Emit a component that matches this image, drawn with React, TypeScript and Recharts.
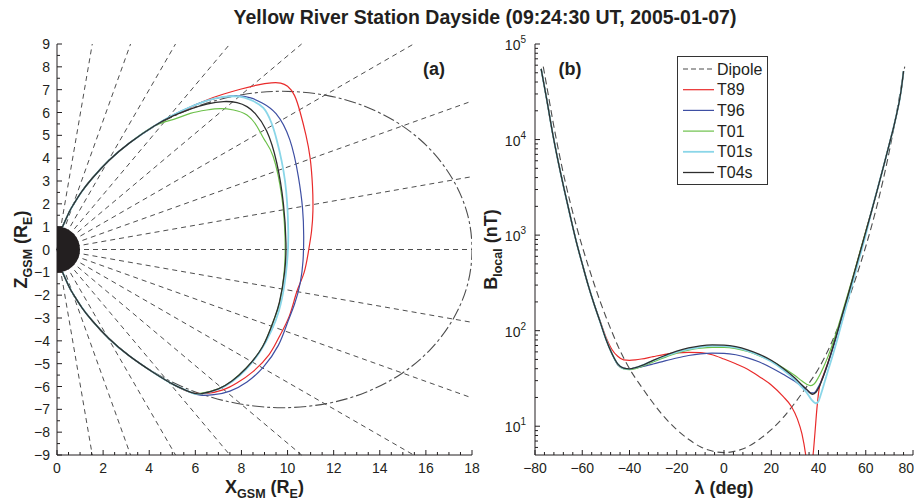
import React from 'react';
import { ComposedChart, Line, XAxis, YAxis, ReferenceLine, ReferenceDot } from 'recharts';

const FONT = '"Liberation Sans", Arial, Helvetica, sans-serif';
const INK = '#231f20';

type Pt = [number, number];

// ---------- panel (a): traced field lines in the X-Z GSM plane (R_E) ----------
const northLeg: Pt[] = [
  [0.23, 0.97], [0.53, 1.64], [0.72, 1.98], [1.07, 2.53], [1.52, 3.11],
  [2.25, 3.9], [3.15, 4.67], [4.2, 5.4],
];
const southLeg: Pt[] = [
  [5.78, -6.25], [5.06, -5.92], [4.2, -5.4], [3.15, -4.67], [2.25, -3.9],
  [1.52, -3.11], [1.07, -2.53], [0.72, -1.98], [0.53, -1.64], [0.23, -0.97],
];
const t89Loop: Pt[] = [
  [5.06, 5.88], [5.78, 6.22], [6.5, 6.55], [7.2, 6.8], [7.95, 7.02], [8.67, 7.2],
  [9.3, 7.3], [9.7, 7.29], [10.0, 7.15], [10.3, 6.75], [10.55, 6.0], [10.8, 5.0],
  [10.98, 4.0], [11.08, 2.8], [11.1, 1.7], [11.04, 0.8], [10.92, 0.0], [10.72, -1.0],
  [10.4, -1.85], [10.07, -2.93], [9.6, -3.9], [9.2, -4.6], [8.5, -5.35], [7.8, -5.85],
  [7.2, -6.15], [6.5, -6.3],
];
const t96Loop: Pt[] = [
  [5.06, 5.9], [5.78, 6.24], [6.5, 6.52], [7.2, 6.68], [7.8, 6.73], [8.4, 6.64],
  [8.9, 6.42], [9.5, 5.95], [10.1, 4.8], [10.47, 3.18], [10.65, 1.8], [10.7, 0.6],
  [10.67, -0.5], [10.55, -1.46], [10.3, -2.4], [9.98, -3.25], [9.6, -4.2], [8.95, -5.15],
  [8.24, -5.8], [7.5, -6.2], [6.8, -6.36], [6.22, -6.38],
];
const t01Loop: Pt[] = [
  [5.06, 5.7], [5.78, 5.96], [6.5, 6.11], [7.08, 6.17], [7.66, 6.11], [8.24, 5.89],
  [8.67, 5.4], [9.0, 4.8], [9.38, 4.06], [9.75, 2.31], [9.89, 0.55], [9.86, -0.9],
  [9.66, -2.3], [9.4, -3.1], [8.92, -4.25], [8.2, -5.2], [7.6, -5.75], [7.0, -6.1],
  [6.22, -6.3],
];
const t01sLoop: Pt[] = [
  [5.06, 5.9], [5.78, 6.24], [6.5, 6.52], [7.2, 6.68], [7.9, 6.7], [8.4, 6.55],
  [8.95, 6.2], [9.3, 5.55], [9.53, 4.8], [9.89, 3.0], [10.03, 0.85], [10.0, -0.3],
  [9.87, -1.5], [9.62, -2.7], [9.3, -3.55], [8.85, -4.4], [8.2, -5.25], [7.6, -5.78],
  [7.0, -6.12], [6.22, -6.33],
];
const t04sLoop: Pt[] = [
  [5.06, 5.86], [5.78, 6.15], [6.5, 6.37], [7.23, 6.48], [7.81, 6.43], [8.24, 6.26],
  [8.6, 5.95], [9.09, 5.2], [9.53, 3.8], [9.82, 2.0], [9.93, 0.3], [9.87, -1.0],
  [9.65, -2.3], [9.4, -3.1], [8.92, -4.25], [8.2, -5.2], [7.6, -5.75], [7.0, -6.1],
  [6.22, -6.32],
];
const dipoleLoop: Pt[] = [
  [0.23, 0.97], [0.31, 1.17], [0.53, 1.64], [0.72, 1.98], [1.07, 2.53], [1.52, 3.11],
  [2.25, 3.9], [3.15, 4.67], [4.2, 5.38], [5.39, 5.99], [6.7, 6.47], [8.09, 6.79],
  [9.78, 6.93], [11.69, 6.75], [13.4, 6.25], [14.94, 5.44], [16.22, 4.35], [17.19, 3.03],
  [17.8, 1.56], [18, 0], [17.8, -1.56], [17.19, -3.03], [16.22, -4.35], [14.94, -5.44],
  [13.4, -6.25], [11.69, -6.75], [9.78, -6.93], [8.09, -6.79], [6.7, -6.47], [5.39, -5.99],
  [4.2, -5.38], [3.15, -4.67], [2.25, -3.9], [1.52, -3.11], [1.07, -2.53], [0.72, -1.98],
  [0.53, -1.64], [0.31, -1.17], [0.23, -0.97],
];
// far ends of the dashed latitude rays (they all start at the origin)
const rayEnds: Pt[] = [
  [1.53, 9], [3.19, 9], [5.14, 9], [7.5, 9], [10.61, 9], [15.47, 9],
  [18, 6.5], [18, 3.19], [18, 0], [18, -3.19], [18, -6.5],
  [15.47, -9], [10.61, -9], [7.5, -9], [5.14, -9], [3.19, -9], [1.53, -9],
];

// ---------- panel (b): B_local along the field line vs latitude ----------
const leftLeg: Pt[] = [
  [-77.4, 55000], [-75, 26000], [-72.5, 11500], [-70, 5600], [-67.5, 2900],
  [-65, 1550], [-62.5, 850], [-60, 500], [-57.5, 300], [-55, 190],
];
const rightLeg: Pt[] = [
  [62.5, 1800], [65, 3050], [67.5, 5200], [70, 9000], [72.5, 16000], [75, 33000], [76, 52000],
];
const dipoleB: Pt[] = [
  [-76.5, 58000], [-75, 36000], [-72.5, 16000], [-70, 7600], [-67.5, 3900], [-65, 2150],
  [-62.5, 1250], [-60, 760], [-57.5, 480], [-55, 310], [-52.5, 205], [-50, 140],
  [-47.5, 98], [-45, 70], [-42.5, 52], [-40, 40], [-35, 26], [-30, 17.5], [-25, 12.3],
  [-20, 9.2], [-15, 7.3], [-10, 6.1], [-5, 5.5], [0, 5.3], [5, 5.5], [10, 6.1], [15, 7.3],
  [20, 9.2], [25, 12.3], [30, 17.5], [35, 26], [40, 40], [42.5, 52], [45, 70], [47.5, 98],
  [50, 140], [52.5, 205], [55, 310], [57.5, 480], [60, 760], [62.5, 1250], [65, 2150],
  [67.5, 3900], [70, 7600], [72.5, 16000], [75, 36000], [76.5, 58000],
];
const t89B: Pt[] = [
  [-52.5, 128], [-50, 86], [-47.5, 64], [-45, 54], [-42.5, 49.5], [-40, 49], [-37.5, 49.5],
  [-35, 50.5], [-30, 53.5], [-25, 56.5], [-20, 58.5], [-15, 59.3], [-10, 59], [-5, 56],
  [0, 50.5], [5, 45], [10, 39.5], [15, 33], [20, 27], [25, 20.5], [28.6, 16], [31, 12],
  [33, 8.3], [34.6, 5], [35.5, 3.4], [36.6, 3.4], [37.7, 5], [38.5, 8.5], [39.3, 15],
  [40.2, 24], [41, 29], [42, 34], [44, 46.5], [46, 66], [48, 97], [50, 145], [52.5, 235],
  [55, 390], [57.5, 650], [60, 1080],
];
const t96B: Pt[] = [
  [-52.5, 125], [-50, 82], [-47.5, 58], [-45, 44], [-42.5, 40.5], [-40, 40], [-37.5, 40.6],
  [-35, 41.8], [-30, 44.8], [-25, 48.3], [-20, 51.8], [-15, 55], [-10, 57.3], [-5, 58.3],
  [0, 58], [5, 56], [10, 52], [15, 47], [20, 41], [25, 35], [30, 29.5], [33, 26], [35, 24],
  [36.5, 22.3], [38, 22.3], [40, 26], [42, 33], [44, 45], [46, 64], [48, 94], [50, 140],
  [52.5, 228], [55, 380], [57.5, 635], [60, 1060],
];
const t01B: Pt[] = [
  [-52.5, 125], [-50, 82], [-47.5, 58], [-45, 44.5], [-42.5, 39.8], [-40, 39.2],
  [-37.5, 40], [-35, 42], [-30, 47], [-25, 52.5], [-20, 58], [-15, 62.5], [-10, 65.5],
  [-5, 67], [0, 67], [5, 65], [10, 60.5], [15, 54.5], [20, 48], [25, 41], [30, 34],
  [33, 29.7], [35, 27.5], [36.5, 26.6], [38, 27.5], [40, 32.5], [42, 41], [44, 53.5],
  [46, 73], [48, 104], [50, 152], [52.5, 245], [55, 400], [57.5, 665], [60, 1100],
];
const t01sB: Pt[] = [
  [-52.5, 125], [-50, 82], [-47.5, 58], [-45, 45], [-42.5, 40.3], [-40, 39.8],
  [-37.5, 41], [-35, 43], [-30, 48.5], [-25, 54], [-20, 59.5], [-15, 64], [-10, 67.5],
  [-5, 69.3], [0, 69], [5, 66.5], [10, 61.5], [15, 55], [20, 47.5], [25, 39], [30, 30.5],
  [33, 25.5], [35, 22.5], [37, 19], [38.9, 17.4], [40, 18.3], [41, 21.5], [42.5, 28.5],
  [44, 38], [46, 55], [48, 82], [50, 125], [52.5, 210], [55, 355], [57.5, 600], [60, 1010],
];
const t04sB: Pt[] = [
  [-52.5, 125], [-50, 82], [-47.5, 58], [-45, 45], [-42.5, 40.5], [-40, 39.8],
  [-37.5, 41], [-35, 43], [-30, 49], [-25, 55], [-20, 61], [-15, 66], [-10, 69.5],
  [-5, 71], [0, 70.5], [5, 68], [10, 63], [15, 56.5], [20, 49], [25, 40.5], [30, 32],
  [33, 27], [35, 24.3], [37.5, 21.6], [39, 22.8], [40.5, 26.5], [42, 33], [44, 46],
  [46, 66], [48, 97], [50, 145], [52.5, 235], [55, 390], [57.5, 650], [60, 1080],
];

// ---------- ticks ----------
const steps = (from: number, to: number, step: number) => {
  const out: number[] = [];
  for (let v = from; v <= to + 1e-9; v += step) out.push(Math.round(v * 1000) / 1000);
  return out;
};
const xLabelsA = [0, 2, 4, 6, 8, 10, 12, 14, 16, 18];
const zLabelsA = [-9, -8, -7, -6, -5, -4, -3, -2, -1, 0, 1, 2, 3, 4, 5, 6, 7, 8, 9];
const latLabels = [-80, -60, -40, -20, 0, 20, 40, 60, 80];
const bDecades = [10, 100, 1000, 10000, 100000];
const xTicksA = steps(0, 18, 0.5);
const zTicksA = steps(-9, 9, 0.5);
const latTicks = steps(-80, 80, 4);
const bTicks = [6, 7, 8, 9, ...[10, 100, 1000, 10000].flatMap((d) => steps(1, 9, 1).map((k) => k * d)), 100000];

const RED = '#e92b2b';
const BLUE = '#3e4fa3';
const GREEN = '#6cc04a';
const CYAN = '#8ad6e8';
const BLACK = '#2e2e2e';
const GREY = '#4d4d4d';

const fieldLines = [
  { name: 'Dipole', pts: dipoleLoop, color: GREY, width: 1.1, dash: '12 3 3 3' },
  { name: 'T89', pts: [...northLeg, ...t89Loop, ...southLeg], color: RED, width: 1.2 },
  { name: 'T96', pts: [...northLeg, ...t96Loop, ...southLeg], color: BLUE, width: 1.2 },
  { name: 'T01', pts: [...northLeg, ...t01Loop, ...southLeg], color: GREEN, width: 1.2 },
  { name: 'T01s', pts: [...northLeg, ...t01sLoop, ...southLeg], color: CYAN, width: 1.8 },
  { name: 'T04s', pts: [...northLeg, ...t04sLoop, ...southLeg], color: BLACK, width: 1.3 },
];
const bSeries = [
  { name: 'Dipole', pts: dipoleB, color: GREY, width: 1.1, dash: '7 4' },
  { name: 'T89', pts: [...leftLeg, ...t89B, ...rightLeg], color: RED, width: 1.2 },
  { name: 'T96', pts: [...leftLeg, ...t96B, ...rightLeg], color: BLUE, width: 1.2 },
  { name: 'T01', pts: [...leftLeg, ...t01B, ...rightLeg], color: GREEN, width: 1.2 },
  { name: 'T01s', pts: [...leftLeg, ...t01sB, ...rightLeg], color: CYAN, width: 1.8 },
  { name: 'T04s', pts: [...leftLeg, ...t04sB, ...rightLeg], color: BLACK, width: 1.3 },
];

const signed = (v: number) => (v < 0 ? `\u2212${Math.abs(v)}` : `${v}`);
const isIn = (list: number[], v: number) => list.some((m) => Math.abs(m - v) < 1e-6);

type LabelFn = (v: number, x: number, y: number) => React.ReactNode;
const bottomLabel: LabelFn = (v, x, y) => (
  <text x={x} y={y + 18} textAnchor="middle" fontSize={14} fill={INK} fontFamily={FONT}>{signed(v)}</text>
);
// the last label of panel (b) sits on the page edge, so it is right-aligned there
const latLabel: LabelFn = (v, x, y) =>
  v >= 80 ? (
    <text x={x + 1} y={y + 18} textAnchor="end" fontSize={14} fill={INK} fontFamily={FONT}>{signed(v)}</text>
  ) : (
    bottomLabel(v, x, y)
  );
const leftLabel: LabelFn = (v, x, y) => (
  <text x={x - 7} y={y + 5} textAnchor="end" fontSize={14} fill={INK} fontFamily={FONT}>{signed(v)}</text>
);
const powLabel: LabelFn = (v, x, y) => (
  <text x={x - 9} y={y + 6} textAnchor="end" fontSize={14} fill={INK} fontFamily={FONT}>
    10<tspan fontSize={10} dy={-7}>{Math.round(Math.log10(v))}</tspan>
  </text>
);

function axisTick(side: 'left' | 'right' | 'top' | 'bottom', majors: number[], label?: LabelFn) {
  return (props: any) => {
    const { x, y, payload } = props;
    const v = Number(payload.value);
    const major = isIn(majors, v);
    const len = major ? 5 : 3;
    let end = { x2: x, y2: y - len };
    if (side === 'top') end = { x2: x, y2: y + len };
    if (side === 'left') end = { x2: x + len, y2: y };
    if (side === 'right') end = { x2: x - len, y2: y };
    return (
      <g>
        <line x1={x} y1={y} {...end} stroke={INK} strokeWidth={1} />
        {label && major ? label(v, x, y) : null}
      </g>
    );
  };
}

const titleStyle = { fontFamily: FONT, fontWeight: 'bold' as const, fill: INK };

const xTitleA = (props: any) => {
  const vb = props.viewBox || {};
  const cx = (vb.x ?? 57) + (vb.width ?? 415) / 2;
  const by = (vb.y ?? 455) + 38;
  return (
    <text x={cx} y={by} textAnchor="middle" fontSize={18} {...titleStyle}>
      X<tspan fontSize={12.5} dy={5}>GSM</tspan><tspan dy={-5}> (R</tspan>
      <tspan fontSize={12.5} dy={5}>E</tspan><tspan dy={-5}>)</tspan>
    </text>
  );
};
const zTitleA = (props: any) => {
  const vb = props.viewBox || {};
  const cy = (vb.y ?? 44) + (vb.height ?? 411) / 2;
  const bx = 27;
  return (
    <text x={bx} y={cy} transform={`rotate(-90 ${bx} ${cy})`} textAnchor="middle" fontSize={18} {...titleStyle}>
      Z<tspan fontSize={12.5} dy={5}>GSM</tspan><tspan dy={-5}> (R</tspan>
      <tspan fontSize={12.5} dy={5}>E</tspan><tspan dy={-5}>)</tspan>
    </text>
  );
};
const latTitle = (props: any) => {
  const vb = props.viewBox || {};
  const cx = (vb.x ?? 55) + (vb.width ?? 378) / 2;
  const by = (vb.y ?? 455) + 39;
  return (
    <text x={cx} y={by} textAnchor="middle" fontSize={18} {...titleStyle}>λ (deg)</text>
  );
};
const bTitle = (props: any) => {
  const vb = props.viewBox || {};
  const cy = (vb.y ?? 44) + (vb.height ?? 411) / 2;
  const bx = 17;
  return (
    <text x={bx} y={cy} transform={`rotate(-90 ${bx} ${cy})`} textAnchor="middle" fontSize={18} {...titleStyle}>
      B<tspan fontSize={12.5} dy={5}>local</tspan><tspan dy={-5}> (nT)</tspan>
    </text>
  );
};

const xz = (pts: Pt[]) => pts.map(([x, z]) => ({ x, z }));
const lb = (pts: Pt[]) => pts.map(([lat, b]) => ({ lat, b }));

function PanelA() {
  return (
    <ComposedChart width={490} height={500} margin={{ top: 44, right: 18, bottom: 0, left: 0 }}>
      <XAxis type="number" dataKey="x" domain={[0, 18]} allowDataOverflow ticks={xTicksA} interval={0}
        height={45} tickSize={0} tickMargin={0} tickLine={false} axisLine={{ stroke: INK }}
        tick={axisTick('bottom', xLabelsA, bottomLabel)} label={xTitleA} />
      <XAxis xAxisId="top" orientation="top" type="number" dataKey="x" domain={[0, 18]} allowDataOverflow
        ticks={xTicksA} interval={0} height={0} tickSize={0} tickMargin={0} tickLine={false}
        axisLine={{ stroke: INK }} tick={axisTick('top', xLabelsA)} />
      <YAxis type="number" domain={[-9, 9]} allowDataOverflow ticks={zTicksA} interval={0} width={57}
        tickSize={0} tickMargin={0} tickLine={false} axisLine={{ stroke: INK }}
        tick={axisTick('left', zLabelsA, leftLabel)} label={zTitleA} />
      <YAxis yAxisId="right" orientation="right" type="number" domain={[-9, 9]} allowDataOverflow
        ticks={zTicksA} interval={0} width={0} tickSize={0} tickMargin={0} tickLine={false}
        axisLine={{ stroke: INK }} tick={axisTick('right', zLabelsA)} />
      {rayEnds.map(([x, z], i) => (
        <ReferenceLine key={`ray-${i}`} segment={[{ x: 0, y: 0 }, { x, y: z }]} stroke="#3a3a3a"
          strokeWidth={0.9} strokeDasharray="5 4" ifOverflow="visible" />
      ))}
      {fieldLines.map((s) => (
        <Line key={s.name} name={s.name} data={xz(s.pts)} dataKey="z" type="natural" stroke={s.color}
          strokeWidth={s.width} strokeDasharray={s.dash} dot={false} activeDot={false}
          isAnimationActive={false} />
      ))}
      <ReferenceDot x={0} y={0} r={23} fill={INK} stroke="none" ifOverflow="hidden" />
    </ComposedChart>
  );
}

function PanelB() {
  return (
    <ComposedChart width={434} height={500} margin={{ top: 44, right: 1, bottom: 0, left: 0 }}>
      <XAxis type="number" dataKey="lat" domain={[-80, 80]} allowDataOverflow ticks={latTicks} interval={0}
        height={45} tickSize={0} tickMargin={0} tickLine={false} axisLine={{ stroke: INK }}
        tick={axisTick('bottom', latLabels, latLabel)} label={latTitle} />
      <XAxis xAxisId="top" orientation="top" type="number" dataKey="lat" domain={[-80, 80]} allowDataOverflow
        ticks={latTicks} interval={0} height={0} tickSize={0} tickMargin={0} tickLine={false}
        axisLine={{ stroke: INK }} tick={axisTick('top', latLabels)} />
      <YAxis type="number" scale="log" domain={[5, 100000]} allowDataOverflow ticks={bTicks} interval={0}
        width={55} tickSize={0} tickMargin={0} tickLine={false} axisLine={{ stroke: INK }}
        tick={axisTick('left', bDecades, powLabel)} label={bTitle} />
      <YAxis yAxisId="right" orientation="right" type="number" scale="log" domain={[5, 100000]}
        allowDataOverflow ticks={bTicks} interval={0} width={0} tickSize={0} tickMargin={0}
        tickLine={false} axisLine={{ stroke: INK }} tick={axisTick('right', bDecades)} />
      {bSeries.map((s) => (
        <Line key={s.name} name={s.name} data={lb(s.pts)} dataKey="b" type="monotone" stroke={s.color}
          strokeWidth={s.width} strokeDasharray={s.dash} dot={false} activeDot={false}
          isAnimationActive={false} />
      ))}
    </ComposedChart>
  );
}

export default function App() {
  return (
    <div style={{ position: 'absolute', left: 0, top: 0, width: 914, height: 500, background: '#fff', fontFamily: FONT }}>
      <div style={{ position: 'absolute', left: 0, top: 0 }}>
        <PanelA />
      </div>
      <div style={{ position: 'absolute', left: 480, top: 0 }}>
        <PanelB />
      </div>
      <svg width={914} height={500} style={{ position: 'absolute', left: 0, top: 0, pointerEvents: 'none' }}>
        <text x={485} y={24} textAnchor="middle" fontSize={19.5} {...titleStyle}>
          Yellow River Station Dayside (09:24:30 UT, 2005-01-07)
        </text>
        <text x={434} y={75} textAnchor="middle" fontSize={18} {...titleStyle}>(a)</text>
        <text x={570} y={75} textAnchor="middle" fontSize={18} {...titleStyle}>(b)</text>
        <rect x={677.5} y={56.5} width={90} height={128} fill="#fff" stroke="#333" strokeWidth={1} />
        {bSeries.map((s, i) => (
          <g key={s.name}>
            <line x1={683} x2={714} y1={69 + i * 20.7} y2={69 + i * 20.7} stroke={s.color}
              strokeWidth={s.width} strokeDasharray={s.dash ? '5 3' : undefined} />
            <text x={717} y={69 + i * 20.7 + 5.5} fontSize={16} fill={INK} fontFamily={FONT}>{s.name}</text>
          </g>
        ))}
      </svg>
    </div>
  );
}
